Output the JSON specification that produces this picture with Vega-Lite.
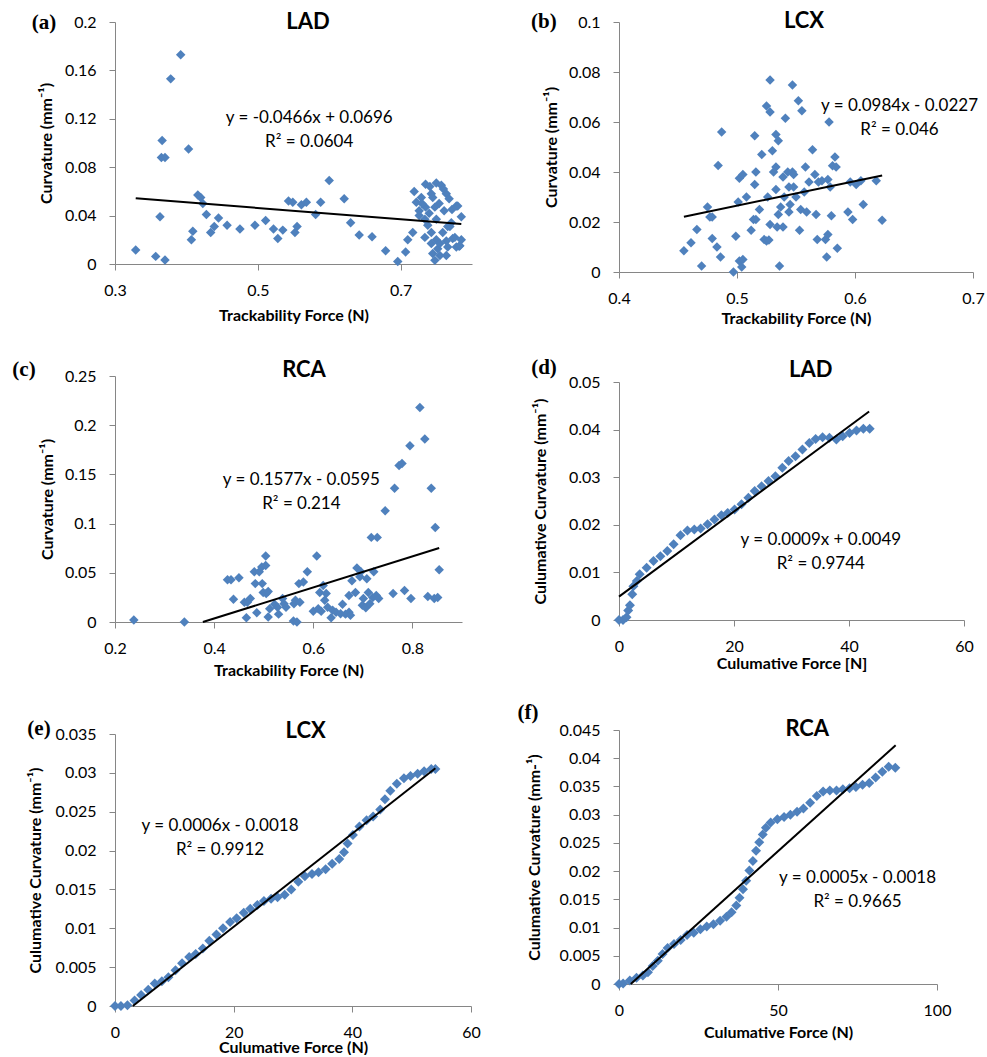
{
  "$schema": "https://vega.github.io/schema/vega-lite/v6.json",
  "padding": {"left": 12, "top": 9, "right": 0, "bottom": 0},
  "config": {
    "view": {"stroke": null},
    "font": "Lato",
    "axis": {
      "grid": false, "domainColor": "#868686", "domainWidth": 1, "tickColor": "#868686", "tickSize": 6,
      "labelFont": "Lato", "labelFontSize": 16, "labelColor": "#000000", "labelPadding": 12,
      "labelFlush": false, "labelOverlap": false, "labelExpr": "format(datum.value, '~g')",
      "titleFont": "Lato", "titleFontSize": 16, "titleFontWeight": "bold", "titleColor": "#000000"
    },
    "axisY": {"labelPadding": 13},
    "point": {"shape": "diamond", "filled": true, "color": "#4F81BD", "opacity": 1},
    "text": {"font": "Lato", "fontSize": 16, "color": "#000000"}
  },
  "datasets": {
    "a": [
      {"x":0.329,"y":0.0116},{"x":0.357,"y":0.0063},{"x":0.370,"y":0.0033},{"x":0.363,"y":0.039},{"x":0.366,"y":0.102},
      {"x":0.365,"y":0.088},{"x":0.370,"y":0.088},{"x":0.378,"y":0.153},{"x":0.392,"y":0.173},{"x":0.403,"y":0.095},
      {"x":0.407,"y":0.020},{"x":0.409,"y":0.027},{"x":0.416,"y":0.057},{"x":0.420,"y":0.055},{"x":0.423,"y":0.050},
      {"x":0.428,"y":0.041},{"x":0.434,"y":0.026},{"x":0.439,"y":0.031},{"x":0.445,"y":0.038},{"x":0.457,"y":0.032},
      {"x":0.475,"y":0.029},{"x":0.496,"y":0.032},{"x":0.511,"y":0.036},{"x":0.522,"y":0.029},{"x":0.528,"y":0.021},
      {"x":0.535,"y":0.028},{"x":0.543,"y":0.052},{"x":0.549,"y":0.051},{"x":0.552,"y":0.026},{"x":0.555,"y":0.031},
      {"x":0.561,"y":0.049},{"x":0.568,"y":0.051},{"x":0.581,"y":0.041},{"x":0.588,"y":0.051},{"x":0.600,"y":0.069},
      {"x":0.621,"y":0.054},{"x":0.630,"y":0.034},{"x":0.642,"y":0.024},{"x":0.660,"y":0.0226},{"x":0.679,"y":0.011},
      {"x":0.696,"y":0.002},{"x":0.707,"y":0.010},{"x":0.710,"y":0.020},{"x":0.717,"y":0.026},
      {"x":0.719,"y":0.060},{"x":0.735,"y":0.066},{"x":0.750,"y":0.067},{"x":0.757,"y":0.065},{"x":0.743,"y":0.058},
      {"x":0.722,"y":0.051},{"x":0.726,"y":0.044},{"x":0.735,"y":0.047},{"x":0.745,"y":0.055},{"x":0.754,"y":0.050},
      {"x":0.764,"y":0.058},{"x":0.761,"y":0.044},{"x":0.778,"y":0.048},{"x":0.785,"y":0.039},{"x":0.769,"y":0.031},
      {"x":0.738,"y":0.032},{"x":0.743,"y":0.026},{"x":0.750,"y":0.020},{"x":0.759,"y":0.026},{"x":0.773,"y":0.021},
      {"x":0.785,"y":0.020},{"x":0.782,"y":0.0146},{"x":0.766,"y":0.014},{"x":0.752,"y":0.0127},{"x":0.745,"y":0.0086},
      {"x":0.755,"y":0.007},{"x":0.764,"y":0.007},{"x":0.748,"y":0.003},{"x":0.743,"y":0.017},{"x":0.734,"y":0.022},
      {"x":0.729,"y":0.055},{"x":0.726,"y":0.040},{"x":0.734,"y":0.037},{"x":0.740,"y":0.042},{"x":0.750,"y":0.037},
      {"x":0.771,"y":0.034},{"x":0.778,"y":0.014},{"x":0.764,"y":0.019},{"x":0.755,"y":0.017},{"x":0.741,"y":0.064},
      {"x":0.760,"y":0.062},{"x":0.748,"y":0.047},{"x":0.730,"y":0.050},{"x":0.768,"y":0.054},{"x":0.772,"y":0.045},
      {"x":0.780,"y":0.048},{"x":0.776,"y":0.022},{"x":0.783,"y":0.015},{"x":0.766,"y":0.031}
    ],
    "b": [
      {"x":0.455,"y":0.0085},{"x":0.461,"y":0.0117},{"x":0.466,"y":0.017},{"x":0.470,"y":0.0024},{"x":0.475,"y":0.026},
      {"x":0.477,"y":0.022},{"x":0.479,"y":0.022},{"x":0.479,"y":0.0134},{"x":0.483,"y":0.010},{"x":0.486,"y":0.006},
      {"x":0.484,"y":0.0426},{"x":0.487,"y":0.056},{"x":0.499,"y":0.0143},{"x":0.497,"y":0.0},{"x":0.502,"y":0.0044},
      {"x":0.504,"y":0.002},{"x":0.505,"y":0.005},{"x":0.501,"y":0.028},{"x":0.502,"y":0.0375},{"x":0.505,"y":0.039},
      {"x":0.508,"y":0.030},{"x":0.512,"y":0.0167},{"x":0.514,"y":0.021},{"x":0.516,"y":0.021},{"x":0.515,"y":0.0545},
      {"x":0.516,"y":0.040},{"x":0.515,"y":0.035},{"x":0.519,"y":0.025},{"x":0.521,"y":0.047},{"x":0.523,"y":0.013},
      {"x":0.525,"y":0.0124},{"x":0.527,"y":0.0128},{"x":0.525,"y":0.0664},{"x":0.528,"y":0.064},{"x":0.528,"y":0.0768},
      {"x":0.526,"y":0.030},{"x":0.528,"y":0.019},{"x":0.530,"y":0.0485},{"x":0.533,"y":0.055},{"x":0.535,"y":0.0525},
      {"x":0.533,"y":0.042},{"x":0.531,"y":0.040},{"x":0.533,"y":0.033},{"x":0.535,"y":0.023},{"x":0.536,"y":0.0024},
      {"x":0.534,"y":0.018},{"x":0.539,"y":0.018},{"x":0.537,"y":0.026},{"x":0.540,"y":0.030},{"x":0.539,"y":0.038},
      {"x":0.541,"y":0.0615},{"x":0.543,"y":0.040},{"x":0.544,"y":0.034},{"x":0.545,"y":0.027},{"x":0.544,"y":0.024},
      {"x":0.547,"y":0.0748},{"x":0.547,"y":0.040},{"x":0.548,"y":0.039},{"x":0.548,"y":0.034},{"x":0.550,"y":0.030},
      {"x":0.552,"y":0.0685},{"x":0.555,"y":0.0645},{"x":0.553,"y":0.0167},{"x":0.554,"y":0.025},{"x":0.558,"y":0.042},
      {"x":0.557,"y":0.032},{"x":0.559,"y":0.024},{"x":0.561,"y":0.036},{"x":0.564,"y":0.0489},{"x":0.566,"y":0.039},
      {"x":0.568,"y":0.013},{"x":0.567,"y":0.023},{"x":0.569,"y":0.036},{"x":0.572,"y":0.0365},{"x":0.575,"y":0.013},
      {"x":0.576,"y":0.006},{"x":0.577,"y":0.015},{"x":0.578,"y":0.060},{"x":0.577,"y":0.037},{"x":0.579,"y":0.034},
      {"x":0.580,"y":0.0225},{"x":0.581,"y":0.0425},{"x":0.583,"y":0.046},{"x":0.584,"y":0.042},{"x":0.585,"y":0.0095},
      {"x":0.594,"y":0.024},{"x":0.596,"y":0.036},{"x":0.598,"y":0.021},{"x":0.601,"y":0.035},{"x":0.605,"y":0.0365},
      {"x":0.607,"y":0.027},{"x":0.618,"y":0.0365},{"x":0.623,"y":0.0207}
    ],
    "c": [
      {"x":0.238,"y":0.002},{"x":0.340,"y":0.0},{"x":0.427,"y":0.043},{"x":0.434,"y":0.043},{"x":0.450,"y":0.045},
      {"x":0.439,"y":0.023},{"x":0.461,"y":0.020},{"x":0.467,"y":0.020},{"x":0.473,"y":0.024},{"x":0.465,"y":0.0044},
      {"x":0.481,"y":0.051},{"x":0.491,"y":0.051},{"x":0.496,"y":0.056},{"x":0.504,"y":0.067},{"x":0.504,"y":0.0575},
      {"x":0.483,"y":0.039},{"x":0.486,"y":0.0095},{"x":0.497,"y":0.039},{"x":0.499,"y":0.030},{"x":0.505,"y":0.029},
      {"x":0.509,"y":0.031},{"x":0.509,"y":0.005},{"x":0.512,"y":0.0135},{"x":0.522,"y":0.018},{"x":0.530,"y":0.008},
      {"x":0.528,"y":0.015},{"x":0.538,"y":0.024},{"x":0.541,"y":0.0186},{"x":0.545,"y":0.015},{"x":0.561,"y":0.0186},
      {"x":0.560,"y":0.001},{"x":0.567,"y":0.0},{"x":0.564,"y":0.022},{"x":0.573,"y":0.020},{"x":0.571,"y":0.039},
      {"x":0.580,"y":0.0406},{"x":0.588,"y":0.051},{"x":0.607,"y":0.067},{"x":0.600,"y":0.011},{"x":0.610,"y":0.0135},
      {"x":0.613,"y":0.030},{"x":0.620,"y":0.037},{"x":0.616,"y":0.011},{"x":0.623,"y":0.022},{"x":0.626,"y":0.029},
      {"x":0.629,"y":0.015},{"x":0.636,"y":0.0044},{"x":0.639,"y":0.012},{"x":0.646,"y":0.010},{"x":0.655,"y":0.0085},
      {"x":0.659,"y":0.018},{"x":0.665,"y":0.008},{"x":0.672,"y":0.010},{"x":0.675,"y":0.0068},{"x":0.672,"y":0.027},
      {"x":0.678,"y":0.042},{"x":0.685,"y":0.030},{"x":0.688,"y":0.055},{"x":0.696,"y":0.051},{"x":0.694,"y":0.046},
      {"x":0.699,"y":0.017},{"x":0.701,"y":0.024},{"x":0.706,"y":0.0145},{"x":0.708,"y":0.044},{"x":0.711,"y":0.030},
      {"x":0.714,"y":0.0186},{"x":0.717,"y":0.086},{"x":0.729,"y":0.086},{"x":0.722,"y":0.051},{"x":0.720,"y":0.025},
      {"x":0.727,"y":0.027},{"x":0.732,"y":0.024},{"x":0.745,"y":0.113},{"x":0.761,"y":0.029},{"x":0.764,"y":0.136},
      {"x":0.773,"y":0.159},{"x":0.779,"y":0.161},{"x":0.784,"y":0.032},{"x":0.795,"y":0.179},{"x":0.797,"y":0.024},
      {"x":0.815,"y":0.218},{"x":0.825,"y":0.186},{"x":0.831,"y":0.026},{"x":0.838,"y":0.136},{"x":0.846,"y":0.096},
      {"x":0.844,"y":0.024},{"x":0.854,"y":0.053},{"x":0.851,"y":0.025}
    ],
    "d": [
      {"x":0,"y":0},{"x":0.7,"y":0},{"x":1.3,"y":0.0006},{"x":1.6,"y":0.002},{"x":1.9,"y":0.0031},{"x":2.3,"y":0.0054},
      {"x":2.5,"y":0.0071},{"x":3.1,"y":0.0082},{"x":3.6,"y":0.0096},{"x":4.8,"y":0.011},{"x":6.0,"y":0.0124},
      {"x":7.2,"y":0.0134},{"x":8.4,"y":0.0145},{"x":9.5,"y":0.0159},{"x":10.7,"y":0.0178},{"x":11.9,"y":0.0188},
      {"x":13.1,"y":0.0190},{"x":14.2,"y":0.0192},{"x":15.4,"y":0.0201},{"x":16.6,"y":0.0211},{"x":17.8,"y":0.0220},
      {"x":18.9,"y":0.0225},{"x":20.1,"y":0.0232},{"x":21.3,"y":0.0243},{"x":22.5,"y":0.0257},{"x":23.6,"y":0.0271},
      {"x":24.8,"y":0.0281},{"x":26.0,"y":0.0292},{"x":27.2,"y":0.0302},{"x":28.4,"y":0.0320},{"x":29.5,"y":0.0334},
      {"x":30.7,"y":0.0344},{"x":31.9,"y":0.0358},{"x":33.1,"y":0.0372},{"x":34.2,"y":0.0380},{"x":35.4,"y":0.0384},
      {"x":36.6,"y":0.0383},{"x":37.8,"y":0.0379},{"x":38.9,"y":0.0386},{"x":40.1,"y":0.0393},{"x":41.3,"y":0.0398},
      {"x":42.5,"y":0.0402},{"x":43.6,"y":0.0402}
    ],
    "e": [
      {"x":0,"y":0},{"x":1.0,"y":0},{"x":2.1,"y":0.0001},{"x":3.3,"y":0.0007},{"x":4.4,"y":0.0014},{"x":5.6,"y":0.0021},
      {"x":6.7,"y":0.0029},{"x":7.9,"y":0.0032},{"x":9.0,"y":0.0037},{"x":10.2,"y":0.0046},{"x":11.3,"y":0.0055},
      {"x":12.5,"y":0.0063},{"x":13.6,"y":0.0067},{"x":14.8,"y":0.0074},{"x":15.9,"y":0.0084},{"x":17.1,"y":0.0092},
      {"x":18.2,"y":0.0100},{"x":19.4,"y":0.0108},{"x":20.5,"y":0.0113},{"x":21.7,"y":0.0120},{"x":22.8,"y":0.0125},
      {"x":24.0,"y":0.0130},{"x":25.1,"y":0.0135},{"x":26.3,"y":0.0138},{"x":27.4,"y":0.0140},{"x":28.6,"y":0.0143},
      {"x":29.7,"y":0.0150},{"x":30.9,"y":0.0160},{"x":32.0,"y":0.0167},{"x":33.2,"y":0.0170},{"x":34.3,"y":0.0172},
      {"x":35.5,"y":0.0176},{"x":36.6,"y":0.0183},{"x":37.8,"y":0.0189},{"x":38.6,"y":0.0198},{"x":39.2,"y":0.0209},
      {"x":40.1,"y":0.0220},{"x":41.2,"y":0.0231},{"x":42.4,"y":0.0239},{"x":43.5,"y":0.0244},{"x":44.7,"y":0.0253},
      {"x":45.5,"y":0.0266},{"x":46.4,"y":0.0277},{"x":47.5,"y":0.0286},{"x":48.7,"y":0.0293},{"x":49.8,"y":0.0296},
      {"x":51.0,"y":0.0299},{"x":52.1,"y":0.0302},{"x":53.3,"y":0.0305},{"x":54.0,"y":0.0305}
    ],
    "f": [
      {"x":0,"y":0},{"x":1.3,"y":0.0001},{"x":3.4,"y":0.0006},{"x":5.5,"y":0.0011},{"x":7.5,"y":0.0015},{"x":9.1,"y":0.0021},
      {"x":10.6,"y":0.0032},{"x":12.2,"y":0.0041},{"x":13.7,"y":0.0053},{"x":15.3,"y":0.0064},{"x":17.3,"y":0.0071},
      {"x":19.4,"y":0.0078},{"x":21.4,"y":0.0087},{"x":23.5,"y":0.0091},{"x":25.6,"y":0.0097},{"x":27.6,"y":0.0102},
      {"x":29.7,"y":0.0106},{"x":31.8,"y":0.0112},{"x":33.8,"y":0.0119},{"x":35.4,"y":0.0127},{"x":36.9,"y":0.0139},
      {"x":37.9,"y":0.0153},{"x":39.0,"y":0.0168},{"x":40.0,"y":0.0183},{"x":41.0,"y":0.0201},{"x":42.1,"y":0.0218},
      {"x":43.1,"y":0.0236},{"x":44.1,"y":0.0251},{"x":45.2,"y":0.0265},{"x":46.2,"y":0.0277},{"x":47.7,"y":0.0286},
      {"x":49.8,"y":0.0292},{"x":51.9,"y":0.0296},{"x":53.9,"y":0.0300},{"x":56.0,"y":0.0305},{"x":58.0,"y":0.0311},
      {"x":60.1,"y":0.0321},{"x":62.2,"y":0.0333},{"x":64.2,"y":0.0341},{"x":66.3,"y":0.0343},{"x":68.4,"y":0.0343},
      {"x":70.4,"y":0.0345},{"x":72.5,"y":0.0347},{"x":74.5,"y":0.0349},{"x":76.6,"y":0.0353},{"x":78.7,"y":0.0356},
      {"x":80.7,"y":0.0366},{"x":82.8,"y":0.0376},{"x":84.8,"y":0.0385},{"x":86.9,"y":0.0383}
    ],
    "one": [{}]
  },
  "bounds": "full",
  "spacing": 36,
  "hconcat": [
    {
      "bounds": "flush",
      "spacing": 112,
      "vconcat": [
        {
          "width": 357, "height": 242,
          "layer": [
            {"data": {"name": "a"}, "mark": {"type": "point", "size": 90},
             "encoding": {
               "x": {"field": "x", "type": "quantitative", "scale": {"domain": [0.3, 0.8], "nice": false, "zero": false},
                     "axis": {"values": [0.3, 0.5, 0.7], "tickCount": 20, "labelOverlap": false, "title": "Trackability Force (N)", "titlePadding": 9}},
               "y": {"field": "y", "type": "quantitative", "scale": {"domain": [0, 0.2], "nice": false},
                     "axis": {"values": [0, 0.04, 0.08, 0.12, 0.16, 0.2], "tickCount": 20, "labelOverlap": false, "title": "Curvature (mm⁻¹)", "titlePadding": 10}}
             }},
            {"data": {"name": "one"}, "mark": {"type": "rule", "color": "#000000", "strokeWidth": 2},
             "encoding": {"x": {"datum": 0.329}, "y": {"datum": 0.0543}, "x2": {"datum": 0.785}, "y2": {"datum": 0.033}}},
            {"data": {"name": "one"}, "mark": {"type": "text", "align": "center", "baseline": "middle", "lineHeight": 24, "fontSize": 17},
             "encoding": {"x": {"datum": 0.572}, "y": {"datum": 0.1208}, "text": {"value": ["y = -0.0466x + 0.0696", "R² = 0.0604"]}}},
            {"data": {"name": "one"}, "mark": {"type": "text", "fontSize": 22, "fontWeight": "bold", "baseline": "middle"},
             "encoding": {"x": {"datum": 0.5703}, "y": {"datum": 0.2002}, "text": {"value": "LAD"}}},
            {"data": {"name": "one"}, "mark": {"type": "text", "font": "Liberation Serif", "fontSize": 21, "fontWeight": "bold", "baseline": "middle"},
             "encoding": {"x": {"datum": 0.2006}, "y": {"datum": 0.1995}, "text": {"value": "(a)"}}}
          ]
        },
        {
          "width": 347, "height": 246,
          "layer": [
            {"data": {"name": "c"}, "mark": {"type": "point", "size": 90},
             "encoding": {
               "x": {"field": "x", "type": "quantitative", "scale": {"domain": [0.2, 0.9], "nice": false, "zero": false},
                     "axis": {"values": [0.2, 0.4, 0.6, 0.8], "tickCount": 20, "labelOverlap": false, "title": "Trackability Force (N)", "titlePadding": 6}},
               "y": {"field": "y", "type": "quantitative", "scale": {"domain": [0, 0.25], "nice": false},
                     "axis": {"values": [0, 0.05, 0.1, 0.15, 0.2, 0.25], "tickCount": 20, "labelOverlap": false, "title": "Curvature (mm⁻¹)", "titlePadding": 9}}
             }},
            {"data": {"name": "one"}, "mark": {"type": "rule", "color": "#000000", "strokeWidth": 2},
             "encoding": {"x": {"datum": 0.3773}, "y": {"datum": 0}, "x2": {"datum": 0.854}, "y2": {"datum": 0.0752}}},
            {"data": {"name": "one"}, "mark": {"type": "text", "align": "center", "baseline": "middle", "lineHeight": 24, "fontSize": 17},
             "encoding": {"x": {"datum": 0.576}, "y": {"datum": 0.1446}, "text": {"value": ["y = 0.1577x - 0.0595", "R² = 0.214"]}}},
            {"data": {"name": "one"}, "mark": {"type": "text", "fontSize": 22, "fontWeight": "bold", "baseline": "middle"},
             "encoding": {"x": {"datum": 0.5813}, "y": {"datum": 0.2564}, "text": {"value": "RCA"}}},
            {"data": {"name": "one"}, "mark": {"type": "text", "font": "Liberation Serif", "fontSize": 21, "fontWeight": "bold", "baseline": "middle"},
             "encoding": {"x": {"datum": 0.0164}, "y": {"datum": 0.2564}, "text": {"value": "(c)"}}}
          ]
        },
        {
          "width": 356, "height": 272,
          "layer": [
            {"data": {"name": "e"}, "mark": {"type": "point", "size": 100},
             "encoding": {
               "x": {"field": "x", "type": "quantitative", "scale": {"domain": [0, 60], "nice": false},
                     "axis": {"values": [0, 20, 40, 60], "tickCount": 20, "labelOverlap": false, "title": "Culumative Force (N)", "titlePadding": -1}},
               "y": {"field": "y", "type": "quantitative", "scale": {"domain": [0, 0.035], "nice": false},
                     "axis": {"values": [0, 0.005, 0.01, 0.015, 0.02, 0.025, 0.03, 0.035], "tickCount": 20, "labelOverlap": false, "title": "Culumative Curvature (mm⁻¹)", "titlePadding": 12}}
             }},
            {"data": {"name": "one"}, "mark": {"type": "rule", "color": "#000000", "strokeWidth": 2},
             "encoding": {"x": {"datum": 3.0}, "y": {"datum": 0}, "x2": {"datum": 54}, "y2": {"datum": 0.0306}}},
            {"data": {"name": "one"}, "mark": {"type": "text", "align": "center", "baseline": "middle", "lineHeight": 24, "fontSize": 17},
             "encoding": {"x": {"datum": 17.7}, "y": {"datum": 0.02321}, "text": {"value": ["y = 0.0006x - 0.0018", "R² = 0.9912"]}}},
            {"data": {"name": "one"}, "mark": {"type": "text", "fontSize": 22, "fontWeight": "bold", "baseline": "middle"},
             "encoding": {"x": {"datum": 32.14}, "y": {"datum": 0.03542}, "text": {"value": "LCX"}}},
            {"data": {"name": "one"}, "mark": {"type": "text", "font": "Liberation Serif", "fontSize": 21, "fontWeight": "bold", "baseline": "middle"},
             "encoding": {"x": {"datum": -12.81}, "y": {"datum": 0.03568}, "text": {"value": "(e)"}}}
          ]
        }
      ]
    },
    {
      "bounds": "flush",
      "spacing": 110,
      "vconcat": [
        {
          "width": 354, "height": 250,
          "layer": [
            {"data": {"name": "b"}, "mark": {"type": "point", "size": 90},
             "encoding": {
               "x": {"field": "x", "type": "quantitative", "scale": {"domain": [0.4, 0.7], "nice": false, "zero": false},
                     "axis": {"values": [0.4, 0.5, 0.6, 0.7], "tickCount": 20, "labelOverlap": false, "title": "Trackability Force (N)", "titlePadding": 4}},
               "y": {"field": "y", "type": "quantitative", "scale": {"domain": [0, 0.1], "nice": false},
                     "axis": {"values": [0, 0.02, 0.04, 0.06, 0.08, 0.1], "tickCount": 20, "labelOverlap": false, "title": "Curvature (mm⁻¹)", "titlePadding": 9}}
             }},
            {"data": {"name": "one"}, "mark": {"type": "rule", "color": "#000000", "strokeWidth": 2},
             "encoding": {"x": {"datum": 0.455}, "y": {"datum": 0.0221}, "x2": {"datum": 0.623}, "y2": {"datum": 0.0386}}},
            {"data": {"name": "one"}, "mark": {"type": "text", "align": "center", "baseline": "middle", "lineHeight": 24, "fontSize": 17},
             "encoding": {"x": {"datum": 0.6377}, "y": {"datum": 0.0665}, "text": {"value": ["y = 0.0984x - 0.0227", "R² = 0.046"]}}},
            {"data": {"name": "one"}, "mark": {"type": "text", "fontSize": 22, "fontWeight": "bold", "baseline": "middle"},
             "encoding": {"x": {"datum": 0.5568}, "y": {"datum": 0.1005}, "text": {"value": "LCX"}}},
            {"data": {"name": "one"}, "mark": {"type": "text", "font": "Liberation Serif", "fontSize": 21, "fontWeight": "bold", "baseline": "middle"},
             "encoding": {"x": {"datum": 0.3364}, "y": {"datum": 0.1001}, "text": {"value": "(b)"}}}
          ]
        },
        {
          "width": 345, "height": 238,
          "layer": [
            {"data": {"name": "d"}, "mark": {"type": "point", "size": 100},
             "encoding": {
               "x": {"field": "x", "type": "quantitative", "scale": {"domain": [0, 60], "nice": false},
                     "axis": {"values": [0, 20, 40, 60], "tickCount": 20, "labelOverlap": false, "title": "Culumative Force [N]", "titlePadding": 1}},
               "y": {"field": "y", "type": "quantitative", "scale": {"domain": [0, 0.05], "nice": false},
                     "axis": {"values": [0, 0.01, 0.02, 0.03, 0.04, 0.05], "tickCount": 20, "labelOverlap": false, "title": "Culumative Curvature (mm⁻¹)", "titlePadding": 20}}
             }},
            {"data": {"name": "one"}, "mark": {"type": "rule", "color": "#000000", "strokeWidth": 2},
             "encoding": {"x": {"datum": 0}, "y": {"datum": 0.0049}, "x2": {"datum": 43.5}, "y2": {"datum": 0.0438}}},
            {"data": {"name": "one"}, "mark": {"type": "text", "align": "center", "baseline": "middle", "lineHeight": 24, "fontSize": 17},
             "encoding": {"x": {"datum": 35.1}, "y": {"datum": 0.01678}, "text": {"value": ["y = 0.0009x + 0.0049", "R² = 0.9744"]}}},
            {"data": {"name": "one"}, "mark": {"type": "text", "fontSize": 22, "fontWeight": "bold", "baseline": "middle"},
             "encoding": {"x": {"datum": 33.34}, "y": {"datum": 0.0526}, "text": {"value": "LAD"}}},
            {"data": {"name": "one"}, "mark": {"type": "text", "font": "Liberation Serif", "fontSize": 21, "fontWeight": "bold", "baseline": "middle"},
             "encoding": {"x": {"datum": -13.04}, "y": {"datum": 0.053}, "text": {"value": "(d)"}}}
          ]
        },
        {
          "width": 318, "height": 254,
          "layer": [
            {"data": {"name": "f"}, "mark": {"type": "point", "size": 100},
             "encoding": {
               "x": {"field": "x", "type": "quantitative", "scale": {"domain": [0, 100], "nice": false},
                     "axis": {"values": [0, 50, 100], "tickCount": 20, "labelOverlap": false, "title": "Culumative Force (N)", "titlePadding": 6}},
               "y": {"field": "y", "type": "quantitative", "scale": {"domain": [0, 0.045], "nice": false},
                     "axis": {"values": [0, 0.005, 0.01, 0.015, 0.02, 0.025, 0.03, 0.035, 0.04, 0.045], "tickCount": 20, "labelOverlap": false, "title": "Culumative Curvature (mm-¹)", "titlePadding": 17}}
             }},
            {"data": {"name": "one"}, "mark": {"type": "rule", "color": "#000000", "strokeWidth": 2},
             "encoding": {"x": {"datum": 3.7}, "y": {"datum": 0}, "x2": {"datum": 87}, "y2": {"datum": 0.0423}}},
            {"data": {"name": "one"}, "mark": {"type": "text", "align": "center", "baseline": "middle", "lineHeight": 24, "fontSize": 17},
             "encoding": {"x": {"datum": 75.0}, "y": {"datum": 0.01886}, "text": {"value": ["y = 0.0005x - 0.0018", "R² = 0.9665"]}}},
            {"data": {"name": "one"}, "mark": {"type": "text", "fontSize": 22, "fontWeight": "bold", "baseline": "middle"},
             "encoding": {"x": {"datum": 59.2}, "y": {"datum": 0.04523}, "text": {"value": "RCA"}}},
            {"data": {"name": "one"}, "mark": {"type": "text", "font": "Liberation Serif", "fontSize": 21, "fontWeight": "bold", "baseline": "middle"},
             "encoding": {"x": {"datum": -28.6}, "y": {"datum": 0.04807}, "text": {"value": "(f)"}}}
          ]
        }
      ]
    }
  ]
}
